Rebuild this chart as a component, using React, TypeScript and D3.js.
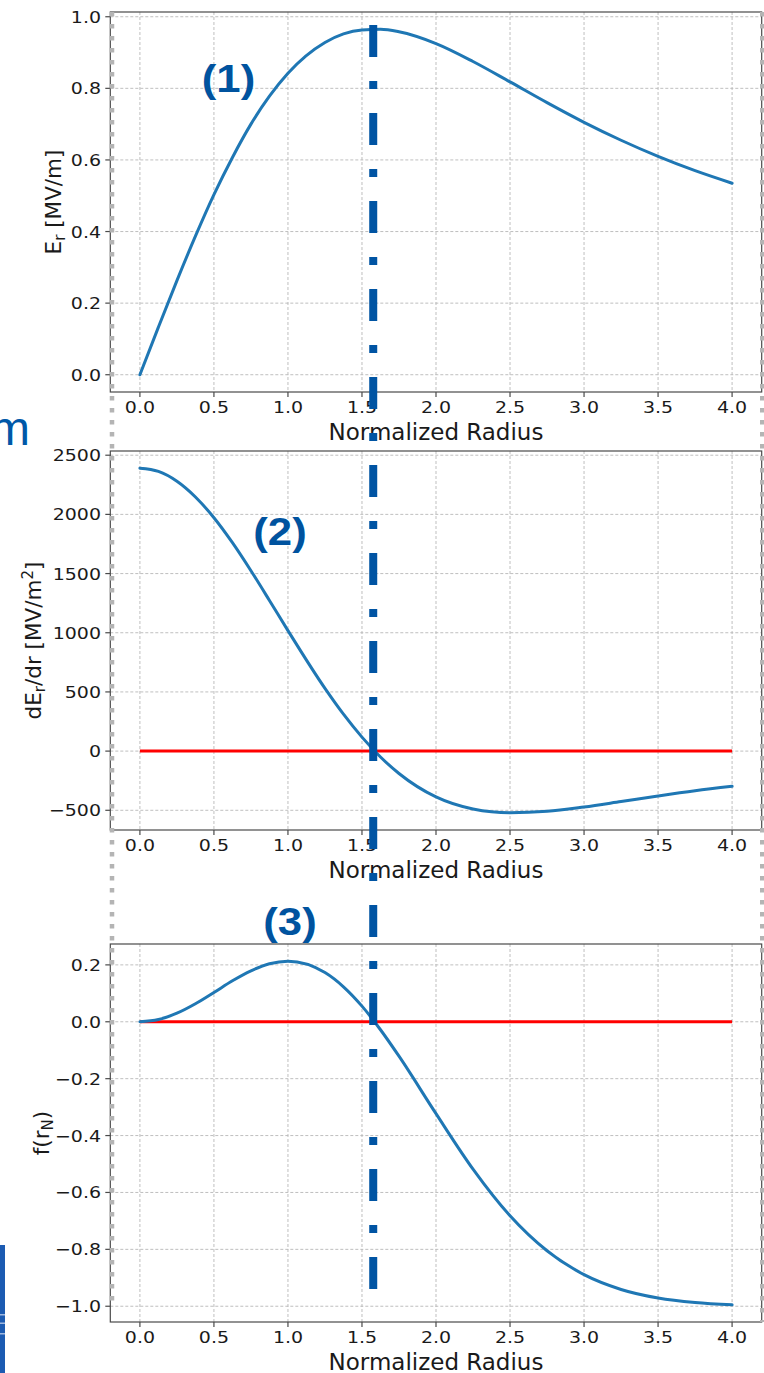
import React from "react";
import * as d3 from "d3";

// ---------- data ----------
const RADIUS = [0, 0.125, 0.25, 0.375, 0.5, 0.625, 0.75, 0.875, 1.0, 1.25, 1.375, 1.5, 1.625, 1.75, 2.0, 2.25, 2.5, 2.75, 3.0, 3.25, 3.5, 3.75, 4.0];
const E_R = [0, 0.133, 0.263, 0.387, 0.503, 0.607, 0.7, 0.778, 0.842, 0.928, 0.952, 0.963, 0.965, 0.958, 0.925, 0.875, 0.818, 0.76, 0.705, 0.655, 0.61, 0.57, 0.535];
const DE_DR = [2390, 2363, 2280, 2147, 1972, 1761, 1524, 1273, 1018, 530, 312, 118, -50, -189, -387, -489, -521, -509, -472, -426, -379, -335, -297];
const F_RN = [0, 0.0077, 0.03, 0.0632, 0.103, 0.144, 0.179, 0.204, 0.213, 0.173, 0.123, 0.055, -0.028, -0.121, -0.323, -0.518, -0.682, -0.805, -0.889, -0.941, -0.971, -0.987, -0.995];

const X_TICKS = [0, 0.5, 1.0, 1.5, 2.0, 2.5, 3.0, 3.5, 4.0];
const Y1_TICKS = [0, 0.2, 0.4, 0.6, 0.8, 1.0];
const Y2_TICKS = [-500, 0, 500, 1000, 1500, 2000, 2500];
const Y3_TICKS = [-1.0, -0.8, -0.6, -0.4, -0.2, 0.0, 0.2];
const ZERO_LINE_X = [0, 4];
const PEAK_RADIUS = 1.576;
const PANEL_LABELS = ["(1)", "(2)", "(3)"];
const X_TITLE = "Normalized Radius";

// ---------- layout ----------
const W = 764;
const H = 1373;
const LEFT = 110.3;
const RIGHT = 761.7;
const BLUE = "#1f77b4";
const DARK_BLUE = "#0054a3";
const SPINE = "#4a4a4a";
const GRID = "#b8b8b8";
const FONT = "DejaVu Sans, sans-serif";
const TICK_FS = 16.5;
const TICK_SX = 1.15;

const x = d3.scaleLinear().domain([-0.2, 4.2]).range([LEFT, RIGHT]);

function padded(vals: number[]): [number, number] {
  const [lo, hi] = d3.extent(vals) as [number, number];
  const p = (hi - lo) * 0.05;
  return [lo - p, hi + p];
}

const fmt1 = (v: number) => (v < 0 ? "\u2212" : "") + Math.abs(v).toFixed(1);
const fmt0 = (v: number) => (v < 0 ? "\u2212" : "") + Math.abs(v).toFixed(0);

type PanelProps = {
  top: number;
  bottom: number;
  values: number[];
  yTicks: number[];
  fmt: (v: number) => string;
  zeroLine: boolean;
  yLabel: React.ReactNode;
  yLabelX: number;
};

function Panel({ top, bottom, values, yTicks, fmt, zeroLine, yLabel, yLabelX }: PanelProps) {
  const y = d3.scaleLinear().domain(padded(values)).range([bottom, top]);
  const line = d3
    .line<number>()
    .x((_, i) => x(RADIUS[i]))
    .y((d) => y(d))
    .curve(d3.curveMonotoneX);
  const zero = d3
    .line<number>()
    .x((d) => x(d))
    .y(() => y(0));
  const cy = (top + bottom) / 2;
  return (
    <g>
      {/* grid */}
      {X_TICKS.map((t) => (
        <line key={"gx" + t} x1={x(t)} x2={x(t)} y1={top} y2={bottom} stroke={GRID} strokeWidth={0.9} strokeDasharray="3 2" />
      ))}
      {yTicks.map((t) => (
        <line key={"gy" + t} x1={LEFT} x2={RIGHT} y1={y(t)} y2={y(t)} stroke={GRID} strokeWidth={0.9} strokeDasharray="3 2" />
      ))}
      {zeroLine && <path d={zero(ZERO_LINE_X) || ""} stroke="#ff0000" strokeWidth={3} fill="none" />}
      <path d={line(values) || ""} stroke={BLUE} strokeWidth={3} fill="none" strokeLinecap="round" />
      {/* spines */}
      <rect x={LEFT} y={top} width={RIGHT - LEFT} height={bottom - top} fill="none" stroke={SPINE} strokeWidth={1.2} />
      {/* x ticks */}
      {X_TICKS.map((t) => (
        <g key={"xt" + t}>
          <line x1={x(t)} x2={x(t)} y1={bottom} y2={bottom + 5} stroke={SPINE} strokeWidth={1.2} />
          <text
            transform={`translate(${x(t)},${bottom + 21}) scale(${TICK_SX},1)`}
            textAnchor="middle"
            fontFamily={FONT}
            fontSize={TICK_FS}
            fill="#1a1a1a"
          >
            {fmt1(t)}
          </text>
        </g>
      ))}
      {/* y ticks */}
      {yTicks.map((t) => (
        <g key={"yt" + t}>
          <line x1={LEFT - 5} x2={LEFT} y1={y(t)} y2={y(t)} stroke={SPINE} strokeWidth={1.2} />
          <text
            transform={`translate(${101},${y(t) + 6}) scale(${TICK_SX},1)`}
            textAnchor="end"
            fontFamily={FONT}
            fontSize={TICK_FS}
            fill="#1a1a1a"
          >
            {fmt(t)}
          </text>
        </g>
      ))}
      <text x={(LEFT + RIGHT) / 2} y={bottom + 47.5} textAnchor="middle" fontFamily={FONT} fontSize={23} fill="#1a1a1a">
        {X_TITLE}
      </text>
      <text
        transform={`translate(${yLabelX},${cy}) rotate(-90)`}
        textAnchor="middle"
        fontFamily={FONT}
        fontSize={21.5}
        fill="#1a1a1a"
      >
        {yLabel}
      </text>
    </g>
  );
}

export default function App() {
  const dashX = x(PEAK_RADIUS);
  const labelStyle = { fontFamily: "Liberation Sans, Arial, sans-serif", fontWeight: 700, fontSize: 38, fill: "#00539f" } as const;
  return (
    <svg width={W} height={H} style={{ position: "absolute", left: 0, top: 0, background: "#fff" }}>
      <rect x={0} y={0} width={W} height={H} fill="#fff" />
      <Panel
        top={12}
        bottom={392}
        values={E_R}
        yTicks={Y1_TICKS}
        fmt={fmt1}
        zeroLine={false}
        yLabelX={61}
        yLabel={
          <>
            E<tspan fontSize={15} dy={4}>r</tspan>
            <tspan dy={-4}> [MV/m]</tspan>
          </>
        }
      />
      <Panel
        top={451}
        bottom={830}
        values={DE_DR}
        yTicks={Y2_TICKS}
        fmt={fmt0}
        zeroLine={true}
        yLabelX={41}
        yLabel={
          <>
            dE<tspan fontSize={15} dy={4}>r</tspan>
            <tspan dy={-4}>/dr [MV/m</tspan>
            <tspan fontSize={15} dy={-8}>2</tspan>
            <tspan dy={8}>]</tspan>
          </>
        }
      />
      <Panel
        top={944}
        bottom={1322}
        values={F_RN}
        yTicks={Y3_TICKS}
        fmt={fmt1}
        zeroLine={true}
        yLabelX={49}
        yLabel={
          <>
            f(r<tspan fontSize={15} dy={4}>N</tspan>
            <tspan dy={-4}>)</tspan>
          </>
        }
      />

      {/* slide overlays: dotted selection borders */}
      <line x1={112} x2={112} y1={12} y2={1305} stroke="#b4b4b4" strokeWidth={4.5} strokeDasharray="4.5 7.5" />
      <line x1={762} x2={762} y1={12} y2={1322} stroke="#b4b4b4" strokeWidth={4} strokeDasharray="4.5 7.5" />

      {/* vertical dash-dot marker at the field peak */}
      <line x1={dashX} x2={dashX} y1={25} y2={1289} stroke={DARK_BLUE} strokeWidth={8} strokeDasharray="32 24 8 24" />

      {/* panel labels */}
      <text transform="translate(228.5,92) scale(1.15,1)" textAnchor="middle" style={labelStyle}>
        {PANEL_LABELS[0]}
      </text>
      <text transform="translate(280,544.5) scale(1.15,1)" textAnchor="middle" style={labelStyle}>
        {PANEL_LABELS[1]}
      </text>
      <text transform="translate(290,935) scale(1.15,1)" textAnchor="middle" style={labelStyle}>
        {PANEL_LABELS[2]}
      </text>

      {/* cropped slide remnants */}
      <text x={30} y={445} textAnchor="end" fontFamily="Liberation Sans, Arial, sans-serif" fontSize={48} fill="#0058a8">
        m
      </text>
      <rect x={0} y={1245} width={5} height={128} fill="#1c5bb2" />
      <rect x={0} y={1314} width={5} height={1.5} fill="#9fb8df" />
      <rect x={0} y={1322.5} width={5} height={1.5} fill="#9fb8df" />
      <rect x={0} y={1333} width={5} height={1.5} fill="#9fb8df" />
    </svg>
  );
}
